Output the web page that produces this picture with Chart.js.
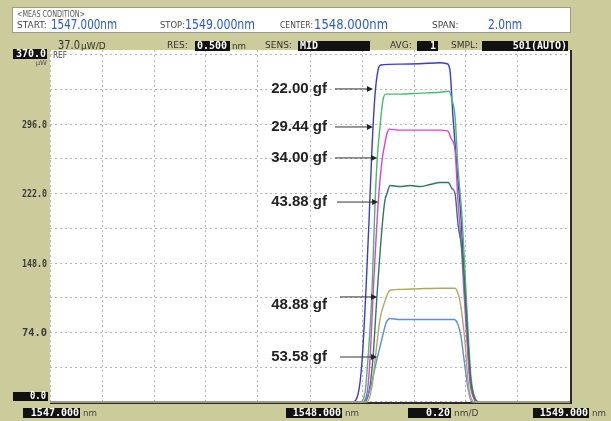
<!DOCTYPE html>
<html>
<head>
<meta charset="utf-8">
<script src="https://cdn.jsdelivr.net/npm/chart.js@4.4.1/dist/chart.umd.min.js"></script>
<style>
  html, body { margin: 0; padding: 0; background: #cbcb9c; }
  #wrap { width: 611px; height: 421px; position: relative; }
</style>
</head>
<body>
<div id="wrap"><canvas id="osa"></canvas></div>
<script>
'use strict'

// 波長(nm) と 光パワー(µW) : 画像から読み取った値
const wlBlue = [1547.000, 1548.162, 1548.185, 1548.200, 1548.215, 1548.227, 1548.238, 1548.250, 1548.262, 1548.273, 1548.346, 1548.423, 1548.500, 1548.527, 1548.538, 1548.550, 1548.565, 1548.581, 1548.592, 1548.604, 1548.615, 1548.631, 1548.646, 1549.000];
const pwBlue = [0, 0, 8.6, 42.9, 118, 193, 268, 327, 354, 359, 360, 360.4, 361.4, 360.4, 354, 303.5, 250, 196, 139, 75, 27, 4, 0, 0];

const wlGreen = [1547.000, 1548.192, 1548.212, 1548.223, 1548.238, 1548.250, 1548.258, 1548.269, 1548.281, 1548.292, 1548.346, 1548.423, 1548.500, 1548.535, 1548.546, 1548.558, 1548.569, 1548.585, 1548.596, 1548.608, 1548.619, 1548.635, 1548.650, 1549.000];
const pwGreen = [0, 0, 10.7, 46, 115, 211, 257, 293, 322, 328, 328, 329, 330, 331, 322, 303.5, 250, 196, 139, 75, 27, 4, 0, 0];

const wlMagenta = [1547.000, 1548.200, 1548.219, 1548.231, 1548.242, 1548.262, 1548.277, 1548.288, 1548.296, 1548.304, 1548.346, 1548.423, 1548.500, 1548.531, 1548.542, 1548.558, 1548.569, 1548.581, 1548.592, 1548.604, 1548.615, 1548.631, 1548.646, 1549.000];
const pwMagenta = [0, 0, 8.6, 46, 110.5, 211, 257, 275.6, 286, 290.7, 289.6, 289.6, 289.6, 288.5, 281, 268, 214.5, 171.6, 118, 64.4, 21.5, 3.2, 0, 0];

const wlDkGreen = [1547.000, 1548.208, 1548.227, 1548.242, 1548.258, 1548.277, 1548.288, 1548.296, 1548.308, 1548.346, 1548.385, 1548.423, 1548.462, 1548.500, 1548.531, 1548.546, 1548.558, 1548.569, 1548.585, 1548.596, 1548.608, 1548.619, 1548.635, 1548.650, 1549.000];
const pwDkGreen = [0, 0, 10.7, 46, 114.8, 185.5, 214.5, 222, 230.6, 229.5, 230.6, 229.5, 231.7, 233.8, 233.8, 227.4, 222, 189.8, 160.9, 118, 64.4, 21.5, 3.2, 0, 0];

const wlOlive = [1547.000, 1548.219, 1548.238, 1548.254, 1548.269, 1548.288, 1548.308, 1548.346, 1548.423, 1548.500, 1548.558, 1548.569, 1548.577, 1548.596, 1548.608, 1548.619, 1548.635, 1549.000];
const pwOlive = [0, 0, 16, 53.6, 88, 107, 119, 120, 120.7, 121.2, 121.2, 115.8, 107.3, 64.4, 21.5, 4.3, 0, 0];

const wlLtBlue = [1547.000, 1548.204, 1548.231, 1548.258, 1548.277, 1548.292, 1548.308, 1548.346, 1548.423, 1548.500, 1548.554, 1548.569, 1548.581, 1548.592, 1548.608, 1548.623, 1549.000];
const pwLtBlue = [0, 0, 13.9, 46.1, 67.6, 83.7, 89, 87.9, 87.9, 87.9, 87.9, 82.6, 69.7, 46.1, 13.9, 0, 0];

// 目盛り
const xGridNm = [1547.0, 1547.2, 1547.4, 1547.6, 1547.8, 1548.0, 1548.2, 1548.4, 1548.6, 1548.8, 1549.0];
const yGridUw = [0, 37, 74, 111, 148, 185, 222, 259, 296, 333, 370];
const yLabelUw = [296, 222, 148, 74];

// 張力ラベル (矢印の先端 nm / µW)
const forceLabels = ['22.00 gf', '29.44 gf', '34.00 gf', '43.88 gf', '48.88 gf', '53.58 gf'];
const arrowTipNm = [1548.242, 1548.242, 1548.258, 1548.262, 1548.258, 1548.258];
const arrowTailNm = [1548.096, 1548.096, 1548.096, 1548.104, 1548.115, 1548.115];
const arrowLevel = [333.5, 293, 260, 213, 111.9, 47.9];

function pts (wl, pw) {
    return wl.map((x, i) => ({ x: x, y: pw[i] }));
}

const traces = [
    { data: pts(wlOlive, pwOlive), color: '#b0a862' },
    { data: pts(wlLtBlue, pwLtBlue), color: '#5b8fe0' },
    { data: pts(wlDkGreen, pwDkGreen), color: '#2e7a5e' },
    { data: pts(wlMagenta, pwMagenta), color: '#e23fd8' },
    { data: pts(wlGreen, pwGreen), color: '#3fbf6c' },
    { data: pts(wlBlue, pwBlue), color: '#3a3ad2' }
];

// 文字描画 (幅を詰める)
function txt (ctx, s, x, y, font, color, w, align) {
    ctx.font = font;
    ctx.fillStyle = color;
    ctx.textAlign = align || 'left';
    ctx.textBaseline = 'middle';
    if (w) ctx.fillText(s, x, y, w); else ctx.fillText(s, x, y);
}
function box (ctx, x1, y1, x2, y2) {
    ctx.fillStyle = '#111';
    ctx.fillRect(x1, y1, x2 - x1, y2 - y1);
}

const osaPanel = {
    id: 'osaPanel',
    beforeDraw (chart) {
        const ctx = chart.ctx;
        const a = chart.chartArea;
        ctx.save();
        ctx.fillStyle = '#cbcb9c';
        ctx.fillRect(0, 0, chart.width, chart.height);
        ctx.fillStyle = '#ffffff';
        ctx.fillRect(a.left, a.top, a.right - a.left, a.bottom - a.top);
        ctx.restore();
    },
    beforeDatasetsDraw (chart) {
        const ctx = chart.ctx;
        const a = chart.chartArea;
        ctx.save();
        ctx.strokeStyle = '#2a2a2a';
        ctx.lineWidth = 2;
        ctx.beginPath();
        ctx.moveTo(a.left, a.bottom);
        ctx.lineTo(a.right + 1, a.bottom);
        ctx.lineTo(a.right + 1, a.top);
        ctx.stroke();
        ctx.restore();
    },
    afterDraw (chart) {
        const ctx = chart.ctx;
        const xs = chart.scales.x;
        const ys = chart.scales.y;
        ctx.save();

        // ヘッダー
        ctx.fillStyle = '#ffffff';
        ctx.fillRect(12, 7, 559, 26);
        ctx.strokeStyle = '#9a9a88';
        ctx.lineWidth = 1;
        ctx.strokeRect(12.5, 7.5, 558, 25);
        const small = '9px "DejaVu Sans"';
        const blue = '#2a5ad8';
        const val = '14px "DejaVu Sans"';
        txt(ctx, '<MEAS CONDITION>', 17, 15, small, '#555', 68);
        txt(ctx, 'START:', 17, 26, small, '#444', 33);
        txt(ctx, '1547.000nm', 51, 25, val, blue, 66);
        txt(ctx, 'STOP:', 160, 26, small, '#444', 25);
        txt(ctx, '1549.000nm', 185, 25, val, blue, 70);
        txt(ctx, 'CENTER:', 280, 26, small, '#444', 33);
        txt(ctx, '1548.000nm', 314, 25, val, blue, 74);
        txt(ctx, 'SPAN:', 432, 26, small, '#444', 27);
        txt(ctx, '2.0nm', 488, 25, val, blue, 34);

        // 2行目
        txt(ctx, '37.0', 58, 46, '13px "DejaVu Sans"', '#333', 22);
        txt(ctx, 'µW/D', 81, 47, small, '#333', 30);
        txt(ctx, 'RES:', 167, 46, small, '#333', 25);
        box(ctx, 195, 41, 230, 51);
        txt(ctx, '0.500', 197, 46, 'bold 10px "DejaVu Sans Mono"', '#fff', 31);
        txt(ctx, 'nm', 232, 47, small, '#333', 14);
        txt(ctx, 'SENS:', 265, 46, small, '#333', 30);
        box(ctx, 298, 41, 370, 51);
        txt(ctx, 'MID', 300, 46, 'bold 10px "DejaVu Sans Mono"', '#fff', 20);
        txt(ctx, 'AVG:', 390, 46, small, '#333', 23);
        box(ctx, 417, 41, 438, 51);
        txt(ctx, '1', 436, 46, 'bold 10px "DejaVu Sans Mono"', '#fff', 8, 'right');
        txt(ctx, 'SMPL:', 451, 46, small, '#333', 28);
        box(ctx, 482, 41, 568, 51);
        txt(ctx, '501(AUTO)', 567, 46, 'bold 10px "DejaVu Sans Mono"', '#fff', 58, 'right');

        // Y ラベル
        box(ctx, 13, 49, 47, 59);
        txt(ctx, '370.0', 46, 54, 'bold 10px "DejaVu Sans Mono"', '#fff', 30, 'right');
        txt(ctx, 'µW', 47, 63, '7px "DejaVu Sans"', '#555', 12, 'right');
        txt(ctx, 'REF', 53, 56, '8px "DejaVu Sans"', '#444', 14);
        yLabelUw.forEach(v => {
            txt(ctx, v.toFixed(1), 47, ys.getPixelForValue(v) + 1, 'bold 11px "DejaVu Sans Mono"', '#3a3a3a', 25, 'right');
        });
        box(ctx, 13, 392, 48, 401);
        txt(ctx, '0.0', 46, 396.5, 'bold 10px "DejaVu Sans Mono"', '#fff', 16, 'right');

        // X ラベル
        const xl = [['1547.000', 23, 80, 'nm'], ['1548.000', 286, 342, 'nm'], ['0.20', 408, 451, 'nm/D'], ['1549.000', 533, 589, 'nm']];
        xl.forEach(l => {
            box(ctx, l[1], 408, l[2], 418);
            txt(ctx, l[0], l[2] - 1, 413, 'bold 10px "DejaVu Sans Mono"', '#fff', l[2] - l[1] - 2, 'right');
            txt(ctx, l[3], l[2] + 3, 414, small, '#444', l[3] === 'nm' ? 14 : 26);
        });

        // 張力ラベルと矢印
        forceLabels.forEach((s, i) => {
            const tipX = xs.getPixelForValue(arrowTipNm[i]);
            const tailX = xs.getPixelForValue(arrowTailNm[i]);
            const y = ys.getPixelForValue(arrowLevel[i]);
            ctx.strokeStyle = '#333';
            ctx.lineWidth = 1;
            ctx.beginPath();
            ctx.moveTo(tailX, y);
            ctx.lineTo(tipX - 5, y);
            ctx.stroke();
            ctx.fillStyle = '#222';
            ctx.beginPath();
            ctx.moveTo(tipX, y);
            ctx.lineTo(tipX - 6, y - 3);
            ctx.lineTo(tipX - 6, y + 3);
            ctx.closePath();
            ctx.fill();
            const ty = i === 4 ? y + 8 : y;
            txt(ctx, s, 327, ty, 'bold 15px "Liberation Sans"', '#222', 56, 'right');
        });
        ctx.restore();
    }
};

new Chart(document.getElementById('osa'), {
    type: 'line',
    data: {
        datasets: traces.map(t => ({
            data: t.data,
            borderColor: t.color,
            borderWidth: 1.4,
            pointRadius: 0,
            fill: false,
            cubicInterpolationMode: 'monotone'
        }))
    },
    options: {
        responsive: true,
        maintainAspectRatio: false,
        animation: false,
        layout: { padding: { left: 50, right: 41, top: 50, bottom: 18 } },
        plugins: { legend: { display: false }, tooltip: { enabled: false } },
        scales: {
            x: {
                type: 'linear',
                min: 1547,
                max: 1549,
                afterBuildTicks: s => { s.ticks = xGridNm.map(v => ({ value: v })); },
                ticks: { display: false },
                grid: { color: '#b5b5b5', lineWidth: 1, drawTicks: false },
                border: { display: false, dash: [2, 3] }
            },
            y: {
                type: 'linear',
                min: -1.1,
                max: 375,
                afterBuildTicks: s => { s.ticks = yGridUw.map(v => ({ value: v })); },
                ticks: { display: false },
                grid: { color: '#b5b5b5', lineWidth: 1, drawTicks: false },
                border: { display: false, dash: [2, 3] }
            }
        }
    },
    plugins: [osaPanel]
});
</script>
</body>
</html>
